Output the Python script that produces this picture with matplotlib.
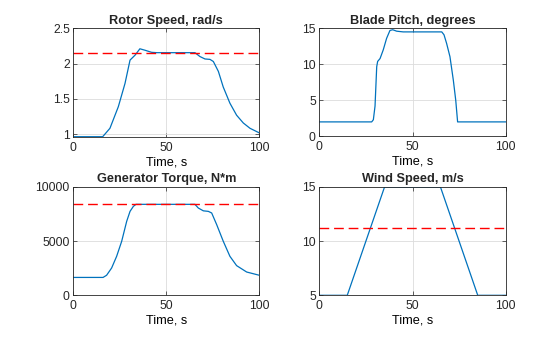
import numpy as np
import matplotlib
matplotlib.use("Agg")
import matplotlib.pyplot as plt

plt.rcParams.update({"font.family": ["Liberation Sans", "DejaVu Sans"],
                     "text.color": "#262626", "axes.edgecolor": "#262626",
                     "xtick.color": "#262626", "ytick.color": "#262626",
                     "xtick.direction": "in", "ytick.direction": "in",
                     "xtick.top": True, "ytick.right": True})

t_rotor = [0, 15.8, 19.7, 24.2, 27.8, 30.5, 33.2, 35.8, 38.5, 42.1, 45, 65.4, 68.1,
           70.8, 73.5, 75.3, 78, 80.6, 84.2, 87.8, 91.4, 95, 100]
rotor = [0.966, 0.966, 1.085, 1.39, 1.72, 2.05, 2.12, 2.21, 2.19, 2.16, 2.155, 2.155, 2.10,
         2.066, 2.06, 2.03, 1.89, 1.67, 1.44, 1.27, 1.16, 1.085, 1.02]
rotor_rated = 2.155

t_pitch = [0, 28.1, 29, 29.9, 30.8, 31.3, 32.6, 34.3, 36.1, 37.9, 39.4, 41.5, 45, 65.7,
           66.9, 68.3, 70.1, 71.9, 73.2, 74.2, 100]
pitch = [2, 2, 2.3, 4.2, 9.66, 10.4, 10.8, 12.0, 13.6, 14.7, 14.8, 14.6, 14.5, 14.5,
         14.1, 12.9, 11.05, 7.8, 5.0, 2.0, 2.0]

t_torque = [0, 16, 17.9, 20.6, 23.3, 26, 28.7, 30.5, 32.3, 33.7, 65.4, 67.2, 69.9, 72.6,
            74.4, 77.1, 80.6, 84.2, 87.8, 93.2, 100]
torque = [1650, 1650, 1850, 2520, 3600, 4980, 6830, 7750, 8215, 8400, 8400, 8060, 7800,
          7750, 7600, 6520, 5000, 3600, 2740, 2150, 1850]
torque_rated = 8400

t_wind = [0, 15, 35, 65, 85, 100]
wind = [5, 5, 15, 15, 5, 5]
wind_rated = 11.2

blue = "#0072BD"
dash = (0, (7, 3.5))
W, H = 560, 337
fig = plt.figure(figsize=(W / 100, H / 100), dpi=100)

def panel(x0, y0, x1, y1):
    return fig.add_axes([x0 / W, 1 - y1 / H, (x1 - x0) / W, (y1 - y0) / H])

axes = [panel(73.3, 28.3, 259.3, 136.7), panel(319.3, 28.3, 505.7, 136.3),
        panel(73.3, 187, 259.3, 295.3), panel(319.3, 187, 505.7, 295.3)]
titles = ["Rotor Speed, rad/s", "Blade Pitch, degrees",
          "Generator Torque, N*m", "Wind Speed, m/s"]

ax = axes[0]
ax.plot(t_rotor, rotor, color=blue, lw=0.9)
ax.axhline(rotor_rated, color="r", ls=dash, lw=1)
ax.set_ylim(min(rotor), 2.5)
ax.set_yticks([1, 1.5, 2, 2.5])
ax.set_yticklabels(["1", "1.5", "2", "2.5"])

ax = axes[1]
ax.plot(t_pitch, pitch, color=blue, lw=0.9)
ax.set_ylim(0, 15)
ax.set_yticks([0, 5, 10, 15])

ax = axes[2]
ax.plot(t_torque, torque, color=blue, lw=0.9)
ax.axhline(torque_rated, color="r", ls=dash, lw=1)
ax.set_ylim(0, 10000)
ax.set_yticks([0, 5000, 10000])

ax = axes[3]
ax.plot(t_wind, wind, color=blue, lw=0.9)
ax.axhline(wind_rated, color="r", ls=dash, lw=1)
ax.set_ylim(5, 15)
ax.set_yticks([5, 10, 15])

for ax, title in zip(axes, titles):
    ax.set_xlim(0, 100)
    ax.set_xticks([0, 50, 100])
    ax.set_xlabel("Time, s", fontsize=9.2, labelpad=2)
    ax.set_title(title, fontsize=9.2, fontweight="bold", pad=3.4)
    ax.tick_params(labelsize=8.7, length=3, width=0.5)
    ax.tick_params(axis="x", pad=3.5)
    ax.tick_params(axis="y", pad=2.5)
    ax.grid(True, color="#DCDCDC", lw=0.6)
    ax.set_axisbelow(True)
    for s in ax.spines.values():
        s.set_linewidth(0.6)

fig.savefig("out.png", dpi=100)
